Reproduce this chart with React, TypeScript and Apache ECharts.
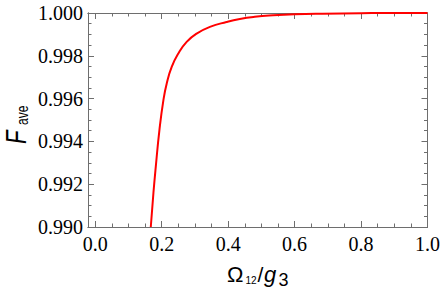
import React, { useEffect, useRef } from "react";
import * as echarts from "echarts";

// Data
const xValues = [0.167, 0.175, 0.182, 0.193, 0.205, 0.215, 0.23, 0.25, 0.275, 0.305, 0.345, 0.395, 0.435, 0.48, 0.535, 0.6, 0.684, 0.8, 0.9, 1.0];
const yValues = [0.99, 0.9916, 0.99281, 0.99453, 0.99593, 0.99671, 0.99748, 0.99811, 0.99865, 0.99904, 0.99935, 0.99958, 0.99972, 0.99982, 0.99989, 0.99994, 0.99997, 0.99999, 1.0, 1.0];

const xTickValues = [0, 0.2, 0.4, 0.6, 0.8, 1.0];
const xMinorTickValues = [0.05, 0.1, 0.15, 0.25, 0.3, 0.35, 0.45, 0.5, 0.55, 0.65, 0.7, 0.75, 0.85, 0.9, 0.95];
const yTickValues = [0.99, 0.992, 0.994, 0.996, 0.998, 1.0];
const yMinorTickValues = [0.9905, 0.991, 0.9915, 0.9925, 0.993, 0.9935, 0.9945, 0.995, 0.9955, 0.9965, 0.997, 0.9975, 0.9985, 0.999, 0.9995];

const X_MIN = -0.022;
const X_MAX = 1.0;
const Y_MIN = 0.99;
const Y_MAX = 1.0;

const FRAME = "#6e6e6e";
const SERIF = "Liberation Serif";
const SANS = "Liberation Sans";
const MAJOR = 6;
const MINOR = 3.5;

function xAxis(position: string, ticks: number[], length: number, withLabels: boolean) {
  return {
    type: "value",
    gridIndex: 0,
    position,
    min: X_MIN,
    max: X_MAX,
    axisLine: { show: true, onZero: false, lineStyle: { color: FRAME, width: 1 } },
    axisTick: { show: true, inside: true, length, customValues: ticks, lineStyle: { color: FRAME, width: 1 } },
    axisLabel: withLabels
      ? {
          show: true,
          customValues: xTickValues,
          formatter: (v: number) => v.toFixed(1),
          color: "#000",
          fontFamily: SERIF,
          fontSize: 20,
          margin: 7,
        }
      : { show: false },
    splitLine: { show: false },
  };
}

function yAxis(position: string, ticks: number[], length: number, withLabels: boolean) {
  return {
    type: "value",
    gridIndex: 0,
    position,
    min: Y_MIN,
    max: Y_MAX,
    axisLine: { show: true, onZero: false, lineStyle: { color: FRAME, width: 1 } },
    axisTick: { show: true, inside: true, length, customValues: ticks, lineStyle: { color: FRAME, width: 1 } },
    axisLabel: withLabels
      ? {
          show: true,
          customValues: yTickValues,
          formatter: (v: number) => v.toFixed(3),
          color: "#000",
          fontFamily: SERIF,
          fontSize: 20,
          margin: 5,
        }
      : { show: false },
    splitLine: { show: false },
  };
}

export default function App() {
  const ref = useRef<HTMLDivElement>(null);

  useEffect(() => {
    document.body.style.margin = "0";
    if (!ref.current) return;
    const chart = echarts.init(ref.current, undefined, { renderer: "svg" });
    const titleColor = "#000";
    chart.setOption({
      animation: false,
      backgroundColor: "#fff",
      grid: { left: 88, right: 14, top: 13, bottom: 65 },
      xAxis: [
        xAxis("bottom", xTickValues, MAJOR, true),
        xAxis("bottom", xMinorTickValues, MINOR, false),
        xAxis("top", xTickValues, MAJOR, false),
        xAxis("top", xMinorTickValues, MINOR, false),
      ],
      yAxis: [
        yAxis("left", yTickValues, MAJOR, true),
        yAxis("left", yMinorTickValues, MINOR, false),
        yAxis("right", yTickValues, MAJOR, false),
        yAxis("right", yMinorTickValues, MINOR, false),
      ],
      series: [
        {
          type: "line",
          xAxisIndex: 0,
          yAxisIndex: 0,
          data: xValues.map((x, i) => [x, yValues[i]]),
          showSymbol: false,
          smooth: 0.5,
          clip: true,
          lineStyle: { color: "#ff0000", width: 2 },
          itemStyle: { color: "#ff0000" },
        },
      ],
      graphic: [
        {
          type: "group",
          x: 0,
          y: 0,
          children: [
            { type: "text", x: 227, y: 274.7, style: { text: "Ω", fontFamily: SANS, fontSize: 22, fill: titleColor, align: "left", verticalAlign: "middle" } },
            { type: "text", x: 245.5, y: 280, style: { text: "12", fontFamily: SANS, fontSize: 10, fill: titleColor, align: "left", verticalAlign: "middle" } },
            { type: "text", x: 257.5, y: 274.7, style: { text: "/", fontFamily: SANS, fontSize: 21, fill: titleColor, align: "left", verticalAlign: "middle" } },
            { type: "text", x: 264, y: 274.7, style: { text: "g", fontFamily: SANS, fontStyle: "italic", fontSize: 22, fill: titleColor, align: "left", verticalAlign: "middle" } },
            { type: "text", x: 278.5, y: 280, style: { text: "3", fontFamily: SANS, fontSize: 18, fill: titleColor, align: "left", verticalAlign: "middle" } },
          ],
        },
        {
          type: "group",
          x: 16,
          y: 144,
          rotation: Math.PI / 2,
          scaleY: 1.35,
          children: [
            { type: "text", x: 0, y: 0, style: { text: "F", fontFamily: SANS, fontStyle: "italic", fontSize: 22, fill: titleColor, align: "left", verticalAlign: "middle" } },
            { type: "text", x: 19, y: 4.5, style: { text: "ave", fontFamily: SANS, fontSize: 12, fill: titleColor, align: "left", verticalAlign: "middle" } },
          ],
        },
      ],
    });
    return () => chart.dispose();
  }, []);

  return <div ref={ref} style={{ width: 443, height: 292 }} />;
}
